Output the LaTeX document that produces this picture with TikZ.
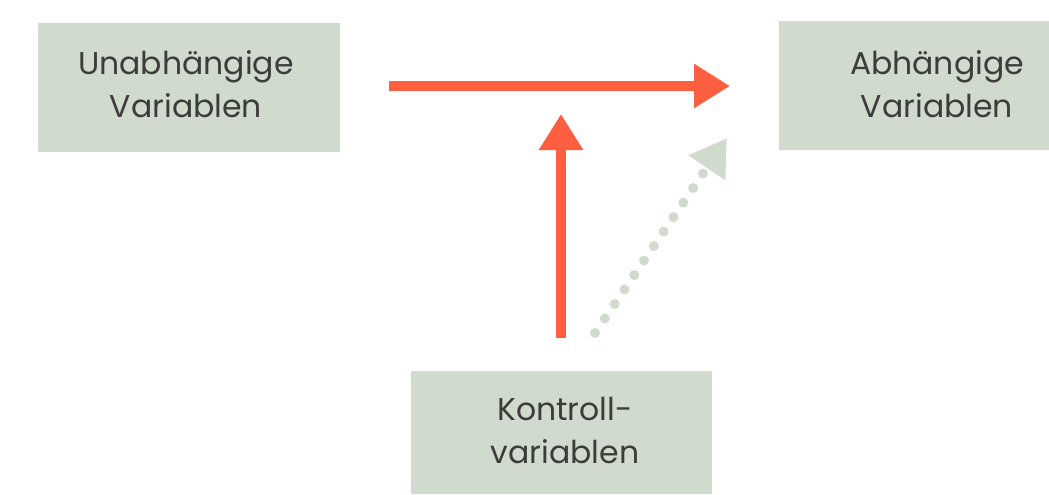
\documentclass[tikz,border=0pt]{standalone}
\usepackage{fontspec}
\setmainfont{Poppins}
\usetikzlibrary{arrows.meta}
\definecolor{boxgreen}{HTML}{D0DBCE}
\definecolor{arrowred}{HTML}{FF5F41}
\definecolor{txt}{HTML}{3C3C3A}
\begin{document}
\begin{tikzpicture}[x=1pt,y=-1pt,
  box/.style={fill=boxgreen,draw=none},
  lbl/.style={text=txt,font=\fontsize{31.5}{43}\selectfont,align=center,inner sep=0pt},
  redarrow/.style={draw=arrowred,line width=10pt,-{Triangle[length=36pt,width=42pt]}},
  dotarrow/.style={draw=boxgreen,line width=10pt,line cap=round,dash pattern=on 0pt off 17.5pt,-{Triangle[length=36pt,width=42pt]}}]
\useasboundingbox (0,0) rectangle (1049,495);
\fill[box] (38,23) rectangle (340,152);
\fill[box] (779,21) rectangle (1049,150);
\fill[box] (411,371) rectangle (712,494);
\node[lbl] (uv) at (186,84) {Unabhängige\\Variablen};
\node[lbl] (av) at (937,84) {Abhängige\\Variablen};
\node[lbl] (kv) at (565,430) {Kontroll-\\variablen};
\coordinate (hs) at (389,86);
\coordinate (he) at (730,86);
\coordinate (vs) at (561,338);
\coordinate (ve) at (561,114);
\coordinate (ds) at (595,333);
\coordinate (de) at (727,138);
\draw[dotarrow] (ds) -- (de);
\draw[redarrow] (hs) -- (he);
\draw[redarrow] (vs) -- (ve);
\end{tikzpicture}
\end{document}
